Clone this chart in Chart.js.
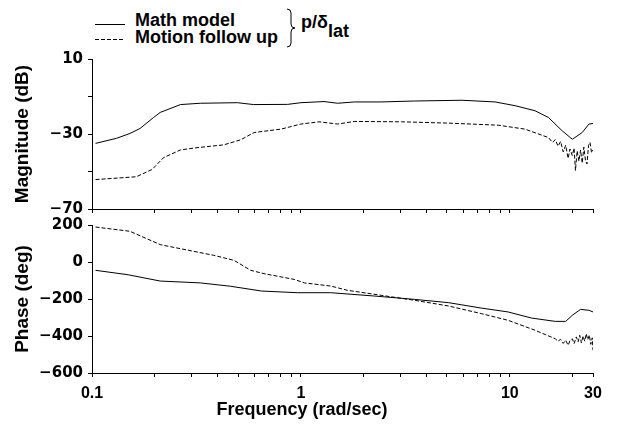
<!DOCTYPE html>
<html>
<head>
<meta charset="utf-8">
<script src="https://cdn.jsdelivr.net/npm/chart.js@4/dist/chart.umd.min.js"></script>
<style>
  body { margin: 0; background: #fff; }
  #wrap { position: relative; width: 633px; height: 425px; font-family: "Liberation Sans", Arial, sans-serif; font-weight: bold; color: #000; }
  #wrap canvas { position: absolute; left: 0; }
  .txt { position: absolute; font-size: 18px; line-height: 18px; white-space: nowrap; }
</style>
</head>
<body>
<div id="wrap">
  <svg width="633" height="60" style="position:absolute;left:0;top:0">
    <line x1="95" y1="24.5" x2="125" y2="24.5" stroke="#000" stroke-width="1"/>
    <line x1="95" y1="39.5" x2="125" y2="39.5" stroke="#000" stroke-width="1" stroke-dasharray="4 2"/>
    <path d="M287 9 Q291 9 291 13 L291 24 Q291 28 295 28 Q291 28 291 32 L291 43 Q291 47 287 47" fill="none" stroke="#000" stroke-width="1"/>
  </svg>
  <div class="txt" style="left:135px;top:11px">Math model</div>
  <div class="txt" style="left:135px;top:28px">Motion follow up</div>
  <div class="txt" style="left:301px;top:13px">p/δ<span style="position:relative;top:9px">lat</span></div>
  <canvas id="mag" width="633" height="178" style="top:45px"></canvas>
  <canvas id="phase" width="633" height="192" style="top:211px"></canvas>
  <div class="txt" style="left:152px;width:300px;text-align:center;top:400px">Frequency (rad/sec)</div>
</div>
<script>
// Frequency response p/δlat: math model vs. motion follow-up

// x axis ticks (rad/sec)
const xTicks = [0.1, 0.2, 0.3, 0.4, 0.5, 0.6, 0.7, 0.8, 0.9,
  1, 2, 3, 4, 5, 6, 7, 8, 9, 10, 20, 25];
const xLabelAt = [0.1, 1, 10, 25];
const xLabelText = ['0.1', '1', '10', '30'];

// magnitude (dB)
const modelMagFreq = [0.104, 0.131, 0.152, 0.17, 0.197, 0.212, 0.265, 0.33, 0.496, 0.594, 0.863, 1.0,
  1.29, 1.5, 1.8, 2.42, 3.5, 5.9, 8.5, 10.6, 13.2, 15.3, 17.8, 19.9, 22.2, 23.9, 25];
const modelMag = [-35.0, -32.3, -29.7, -27.0, -21.2, -18.5, -14.3, -13.6, -13.3, -14.3, -14.2, -13.3,
  -12.7, -13.6, -12.9, -12.9, -12.4, -12.0, -12.9, -14.9, -17.6, -21.2, -28.3, -32.8, -29.2, -24.7, -24.4];

const followMagFreq = [0.104, 0.163, 0.194, 0.22, 0.265, 0.318, 0.427, 0.515, 0.597, 0.802, 1.0,
  1.22, 1.5, 1.8, 3.03, 5.1, 8.8, 11.8, 15.3, 16.0, 16.5, 17.0, 17.5, 18.0, 18.5, 19.0, 19.4,
  19.9, 20.3, 20.6, 21.0, 21.4, 21.8, 22.2, 22.6, 23.0, 23.4, 23.8, 24.2, 24.6, 25.0];
const followMag = [-54.3, -52.8, -48.9, -42.6, -38.5, -37.3, -35.8, -33.1, -29.2, -27.4, -24.7,
  -23.5, -24.7, -23.3, -23.5, -24.2, -25.3, -27.4, -31.9, -34.5, -33.0, -36.5, -34.0, -39.5, -36.0, -43.0, -38.0,
  -41.5, -37.5, -49.5, -39.0, -44.5, -38.5, -45.5, -37.0, -44.0, -46.0, -36.0, -34.5, -40.0, -38.5];

// phase (deg)
const modelPhaseFreq = [0.104, 0.149, 0.212, 0.33, 0.46, 0.648, 0.965, 1.39, 2.25, 3.5, 5.1, 7.3,
  9.8, 12.7, 16.5, 18.5, 19.9, 21.8, 23.9, 25];
const modelPhase = [-45, -69, -103, -113, -131, -157, -166, -166, -184, -202, -220, -249,
  -270, -303, -321, -321, -288, -256, -261, -270];

const followPhaseFreq = [0.104, 0.152, 0.212, 0.265, 0.383, 0.478, 0.575, 0.666, 0.928, 1.04, 1.39,
  1.67, 2.42, 3.5, 5.1, 7.3, 9.8, 13.2, 16.5, 17.0, 17.5, 18.0, 18.5, 19.0, 19.4, 19.9, 20.3, 20.8,
  21.2, 21.6, 22.0, 22.4, 22.8, 23.2, 23.6, 24.0, 24.4, 24.8, 25.0];
const followPhase = [189, 166, 94, 72, 36, 9, -45, -63, -94, -113, -130,
  -153, -180, -207, -238, -279, -315, -369, -415, -428, -418, -440, -423, -450, -425, -415, -441, -405,
  -432, -396, -438, -400, -428, -388, -420, -395, -445, -410, -477];

const family = '"Liberation Sans", Arial, sans-serif';
const xTickFont = { family, size: 16, weight: 'bold' };
const yTickFont = { family: '"DejaVu Sans", sans-serif', size: 15, weight: 'bold' };
const titleFont = { family, size: 19, weight: 'bold' };
Chart.defaults.color = '#000';

const pts = (xs, ys) => xs.map((x, i) => ({ x, y: ys[i] }));
const fmt = v => v < 0 ? '\u2212' + Math.abs(v) : String(v);

function line(xs, ys, dashed) {
  return {
    data: pts(xs, ys),
    borderColor: '#000',
    borderWidth: 1,
    borderDash: dashed ? [4, 2] : [],
    pointRadius: 0,
    tension: 0,
    fill: false
  };
}

function xAxis(showLabels, height) {
  return {
    type: 'logarithmic',
    min: 0.1,
    max: 25,
    grid: { drawOnChartArea: false, color: '#000', tickLength: 4 },
    border: { color: '#000' },
    afterBuildTicks: s => { s.ticks = xTicks.map(v => ({ value: v })); },
    afterFit: s => { s.height = height; },
    ticks: {
      autoSkip: false,
      maxRotation: 0,
      padding: 7,
      font: xTickFont,
      callback: v => {
        const i = xLabelAt.indexOf(v);
        return showLabels && i >= 0 ? xLabelText[i] : '';
      }
    }
  };
}

function yAxis(min, max, step, label, showTick) {
  return {
    min, max,
    grid: { drawOnChartArea: false, color: '#000', tickLength: 4 },
    border: { color: '#000' },
    ticks: { stepSize: step, padding: 5, font: yTickFont, callback: v => showTick(v) ? fmt(v) : '' },
    title: { display: true, text: label, font: titleFont, padding: { top: 11, bottom: 0 } },
    afterFit: s => { s.width = 92; }
  };
}

const common = {
  responsive: false,
  animation: false,
  layout: { padding: { top: 12, right: 40, bottom: 0, left: 0 } },
  plugins: { legend: { display: false }, tooltip: { enabled: false } }
};

new Chart(document.getElementById('mag'), {
  type: 'line',
  data: { datasets: [line(modelMagFreq, modelMag, false), line(followMagFreq, followMag, true)] },
  options: {
    ...common,
    scales: {
      x: xAxis(false, 12),
      y: yAxis(-70, 10, 20, 'Magnitude (dB)', v => (v - 10) % 40 === 0)
    }
  }
});

new Chart(document.getElementById('phase'), {
  type: 'line',
  data: { datasets: [line(modelPhaseFreq, modelPhase, false), line(followPhaseFreq, followPhase, true)] },
  options: {
    ...common,
    scales: {
      x: xAxis(true, 30),
      y: yAxis(-600, 200, 200, 'Phase (deg)', () => true)
    }
  }
});
</script>
</body>
</html>
